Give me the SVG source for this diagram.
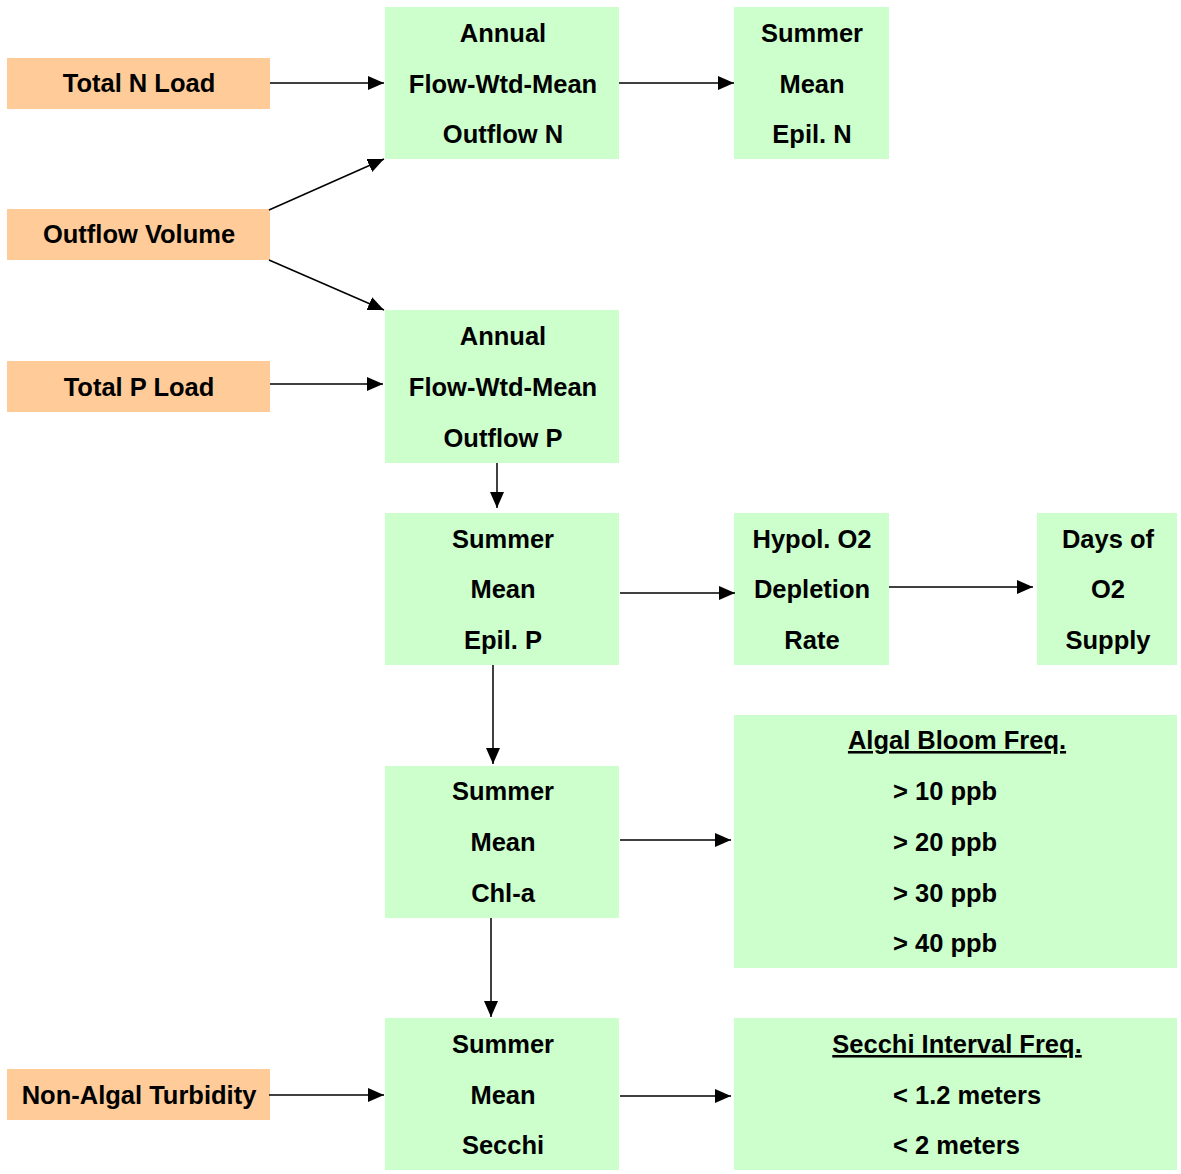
<svg xmlns="http://www.w3.org/2000/svg" width="1181" height="1174" viewBox="0 0 1181 1174">
<style>
.src{fill:#FFCC99}
.box{fill:#CCFFCC}
text{font-family:"Liberation Sans",Arial,sans-serif;font-weight:bold;font-size:25.5px;fill:#000;text-anchor:middle}
.l{text-anchor:start}
.u{text-decoration:underline}
.c line{stroke:#000;stroke-width:1.5;marker-end:url(#ah)}
</style>
<defs>
<marker id="ah" markerUnits="userSpaceOnUse" viewBox="0 0 16 14" refX="16" refY="7" markerWidth="16" markerHeight="14" orient="auto">
<path d="M0,0 L16,7 L0,14 z" fill="#000"/>
</marker>
</defs>
<rect width="1181" height="1174" fill="#fff"/>
<g id="totalN"><rect class="src" x="7" y="58" width="263" height="51"/><text x="139" y="92">Total N Load</text></g>
<g id="outflowVol"><rect class="src" x="7" y="209" width="263" height="51"/><text x="139" y="243">Outflow Volume</text></g>
<g id="totalP"><rect class="src" x="7" y="361" width="263" height="51"/><text x="139" y="396">Total P Load</text></g>
<g id="nonAlgal"><rect class="src" x="7" y="1069" width="263" height="51"/><text x="139" y="1104">Non-Algal Turbidity</text></g>

<g id="annualN"><rect class="box" x="385" y="7" width="234" height="152"/><text x="503" y="42">Annual</text><text x="503" y="93">Flow-Wtd-Mean</text><text x="503" y="143">Outflow N</text></g>
<g id="epilN"><rect class="box" x="734" y="7" width="155" height="152"/><text x="812" y="42">Summer</text><text x="812" y="93">Mean</text><text x="812" y="143">Epil. N</text></g>
<g id="annualP"><rect class="box" x="385" y="310" width="234" height="153"/><text x="503" y="345">Annual</text><text x="503" y="396">Flow-Wtd-Mean</text><text x="503" y="447">Outflow P</text></g>
<g id="epilP"><rect class="box" x="385" y="513" width="234" height="152"/><text x="503" y="548">Summer</text><text x="503" y="598">Mean</text><text x="503" y="649">Epil. P</text></g>
<g id="hypol"><rect class="box" x="734" y="513" width="155" height="152"/><text x="812" y="548">Hypol. O2</text><text x="812" y="598">Depletion</text><text x="812" y="649">Rate</text></g>
<g id="days"><rect class="box" x="1037" y="513" width="140" height="152"/><text x="1108" y="548">Days of</text><text x="1108" y="598">O2</text><text x="1108" y="649">Supply</text></g>
<g id="chla"><rect class="box" x="385" y="766" width="234" height="152"/><text x="503" y="800">Summer</text><text x="503" y="851">Mean</text><text x="503" y="902">Chl-a</text></g>
<g id="algal"><rect class="box" x="734" y="715" width="443" height="253"/><text class="u" x="957" y="749">Algal Bloom Freq.</text><text class="l" x="893" y="800">&gt; 10 ppb</text><text class="l" x="893" y="851">&gt; 20 ppb</text><text class="l" x="893" y="902">&gt; 30 ppb</text><text class="l" x="893" y="952">&gt; 40 ppb</text></g>
<g id="secchi"><rect class="box" x="385" y="1018" width="234" height="152"/><text x="503" y="1053">Summer</text><text x="503" y="1104">Mean</text><text x="503" y="1154">Secchi</text></g>
<g id="secchiFreq"><rect class="box" x="734" y="1018" width="443" height="152"/><text class="u" x="957" y="1053">Secchi Interval Freq.</text><text class="l" x="893" y="1104">&lt; 1.2 meters</text><text class="l" x="893" y="1154">&lt; 2 meters</text></g>

<g class="c" id="connectors">
<line x1="270" y1="83" x2="384" y2="83"/>
<line x1="619" y1="83" x2="734" y2="83"/>
<line x1="269" y1="210" x2="384" y2="159"/>
<line x1="269" y1="260" x2="384" y2="310"/>
<line x1="270" y1="384" x2="383" y2="384"/>
<line x1="497" y1="463" x2="497" y2="508"/>
<line x1="620" y1="593" x2="735" y2="593"/>
<line x1="889" y1="587" x2="1033" y2="587"/>
<line x1="493" y1="665" x2="493" y2="764"/>
<line x1="620" y1="840" x2="731" y2="840"/>
<line x1="491" y1="918" x2="491" y2="1017"/>
<line x1="269" y1="1095" x2="384" y2="1095"/>
<line x1="620" y1="1096" x2="731" y2="1096"/>
</g>
</svg>
